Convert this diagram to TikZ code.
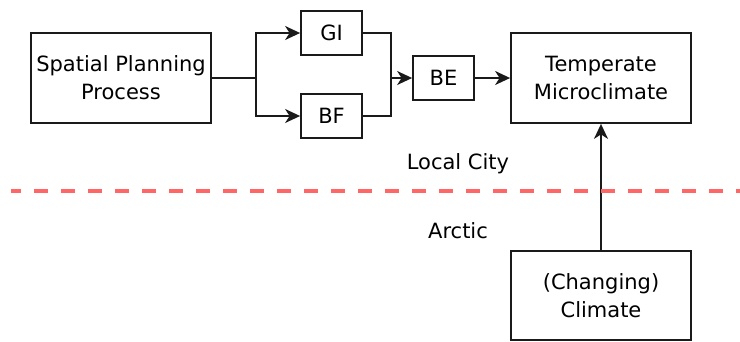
\documentclass[tikz,border=0pt]{standalone}
\usepackage{fontspec}
\setmainfont{DejaVu Sans}
\usetikzlibrary{arrows.meta}
\definecolor{divider}{HTML}{FF6666}
\definecolor{ink}{HTML}{1A1A1A}
\begin{document}
\begin{tikzpicture}[x=1pt, y=-1pt,
  box/.style={draw=ink, line width=1.8pt, fill=white, inner sep=0pt, align=center,
    font=\fontsize{21}{28}\selectfont},
  bigbox/.style={box, minimum width=180pt, minimum height=90pt},
  smallbox/.style={box, minimum width=61pt, minimum height=44pt},
  wire/.style={draw=ink, line width=1.8pt},
  arr/.style={wire, -{Stealth[length=15pt, width=14pt, inset=4.5pt]}},
  lbl/.style={font=\fontsize{21}{28}\selectfont, inner sep=0pt}]
\useasboundingbox (0,0) rectangle (740,341);

% boxes
\node[bigbox]   (spp) at (121,78)    {Spatial Planning\\Process};
\node[smallbox] (gi)  at (331.5,33)  {GI};
\node[smallbox] (bf)  at (331.5,116) {BF};
\node[smallbox] (be)  at (443.5,78)  {BE};
\node[bigbox]   (tm)  at (601,78)    {Temperate\\Microclimate};
\node[box, minimum width=180pt, minimum height=89pt] (cc) at (601,295.5) {(Changing)\\Climate};

% branch points
\coordinate (j1) at (256,78);
\coordinate (j2) at (391,78);

% connectors
\draw[wire] (spp.east) -- (j1);
\draw[arr] (j1) |- (gi.west);
\draw[arr] (j1) |- (bf.west);
\draw[wire] (gi.east) -| (j2);
\draw[wire] (bf.east) -| (j2);
\draw[arr] (j2) -- (be.west);
\draw[arr] (be.east) -- (tm.west);
\draw[arr] (cc.north) -- (tm.south);

% boundary between scales
\coordinate (dl) at (11,191);
\coordinate (dr) at (740,191);
\draw[divider, line width=4pt, dash pattern=on 13.3pt off 13.7pt, dash phase=3.7pt] (dl) -- (dr);

\node[lbl] (city)   at (458,164) {Local City};
\node[lbl] (arctic) at (458,231) {Arctic};
\end{tikzpicture}
\end{document}
